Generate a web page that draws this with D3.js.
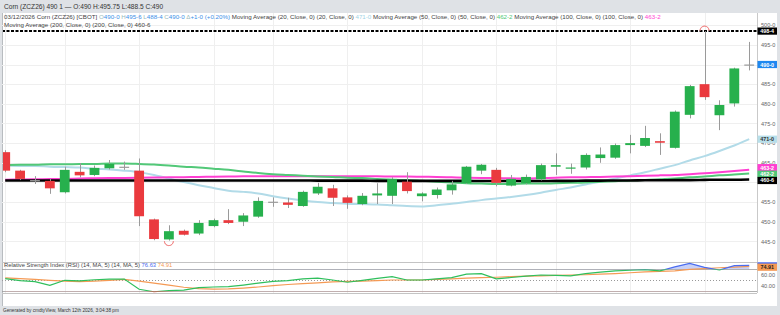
<!DOCTYPE html>
<html>
<head>
<meta charset="utf-8">
<script src="https://cdn.jsdelivr.net/npm/d3@7"></script>
<style>
body { margin: 0; background: #dfe2e6; font-family: "Liberation Sans", Arial, sans-serif; }
svg { display: block; }
</style>
</head>
<body>
<div id="chart"></div>
<script>
// trading days shown
let dates = ["2025-12-29","2025-12-30","2025-12-31","2026-01-02","2026-01-05","2026-01-06","2026-01-07","2026-01-08","2026-01-09",
  "2026-01-12","2026-01-13","2026-01-14","2026-01-15","2026-01-16","2026-01-20","2026-01-21","2026-01-22","2026-01-23",
  "2026-01-26","2026-01-27","2026-01-28","2026-01-29","2026-01-30","2026-02-02","2026-02-03","2026-02-04","2026-02-05","2026-02-06",
  "2026-02-09","2026-02-10","2026-02-11","2026-02-12","2026-02-13","2026-02-17","2026-02-18","2026-02-19","2026-02-20",
  "2026-02-23","2026-02-24","2026-02-25","2026-02-26","2026-02-27","2026-03-02","2026-03-03","2026-03-04","2026-03-05","2026-03-06",
  "2026-03-09","2026-03-10","2026-03-11","2026-03-12"]

let opens  = [467.7,463.0,460.6,460.4,457.5,462.7,461.9,463.6,464.0,463.0,450.6,445.5,447.7,447.0,448.9,450.4,450.0,451.3,455.1,454.9,
  454.0,457.2,458.5,456.2,454.5,456.7,456.6,460.2,456.5,456.8,458.0,459.8,463.0,463.2,459.2,459.8,460.8,464.0,463.5,463.8,
  466.2,466.3,469.5,469.3,470.5,468.8,477.2,485.0,477.1,480.1,490.0]
let highs  = [468.2,463.2,461.6,460.9,464.0,464.9,464.3,465.7,465.3,466.1,450.8,449.1,448.0,450.4,450.8,453.2,452.2,456.2,456.2,456.1,
  457.9,459.9,459.4,456.7,457.3,459.8,461.3,462.6,457.5,458.7,460.4,464.2,464.7,463.7,461.9,462.0,464.8,467.4,464.8,467.4,
  468.9,469.9,472.1,474.4,472.5,478.3,484.8,498.5,480.9,489.2,495.75]
let lows   = [462.6,460.6,459.6,457.1,457.2,461.3,461.6,463.3,463.2,448.9,445.3,445.2,446.5,446.6,448.6,449.4,448.9,451.0,453.8,453.5,
  453.8,456.8,454.0,453.3,454.2,454.5,454.5,457.2,455.2,455.9,456.9,459.6,462.1,459.0,459.0,459.5,460.5,461.9,462.2,463.3,
  465.0,466.0,467.4,469.0,467.0,468.6,476.3,481.0,473.3,479.3,488.5]
let closes = [463.0,460.9,460.6,458.5,463.2,461.8,463.7,464.7,464.0,451.4,445.6,447.6,446.7,449.7,450.4,449.7,451.6,455.3,455.1,454.3,
  457.6,458.9,456.1,454.8,456.6,457.2,460.9,457.8,457.2,458.2,459.5,464.0,464.5,459.9,460.9,461.4,464.4,464.4,463.8,467.0,
  467.1,469.5,470.0,471.3,470.1,478.0,484.5,481.7,479.7,489.0,490.0]

// moving averages (20, 50, 100, 200)
let ma20  = [464.3,464.2,464.2,464.0,463.9,463.8,463.5,463.3,463.0,462.6,461.9,461.0,460.1,459.3,458.6,457.9,457.6,457.2,456.5,455.9,
  455.4,455.0,454.8,454.6,454.5,454.4,454.2,454.0,453.9,454.2,454.6,455.0,455.5,455.9,456.3,456.8,457.4,458.1,458.7,459.5,
  460.2,461.0,461.8,462.6,463.5,464.4,465.6,466.7,468.0,469.4,471.0]
let ma50  = [464.4,464.5,464.5,464.6,464.6,464.7,464.7,464.8,464.8,464.7,464.55,464.3,464.0,463.8,463.5,463.2,462.8,462.4,462.1,461.9,
  461.7,461.5,461.4,461.2,461.1,460.9,460.7,460.6,460.4,460.2,460.0,459.8,459.7,459.6,459.6,459.7,459.7,459.8,459.9,460.0,
  460.2,460.3,460.5,460.6,460.8,461.0,461.3,461.5,461.8,462.0,462.25]
let ma100 = [460.7,460.75,460.8,460.85,460.9,461.0,461.05,461.1,461.15,461.2,461.25,461.3,461.35,461.4,461.45,461.5,461.55,461.6,461.6,461.6,
  461.6,461.6,461.6,461.6,461.55,461.55,461.5,461.5,461.45,461.4,461.3,461.2,461.15,461.1,461.05,461.0,461.1,461.2,461.3,461.35,
  461.4,461.5,461.6,461.7,461.8,461.9,462.1,462.35,462.6,462.9,463.25]
let ma200 = [460.5,460.5,460.5,460.5,460.5,460.5,460.5,460.5,460.5,460.5,460.5,460.5,460.5,460.5,460.5,460.5,460.5,460.5,460.5,460.5,
  460.5,460.45,460.45,460.45,460.45,460.4,460.4,460.4,460.4,460.4,460.4,460.4,460.35,460.35,460.35,460.35,460.35,460.4,460.4,460.45,
  460.45,460.5,460.5,460.55,460.55,460.6,460.6,460.65,460.7,460.7,460.75]

// RSI (14) and its 5-period MA
let rsi   = [53.0,49.5,47.5,41.0,50.0,49.0,51.0,52.0,52.3,34.0,29.5,31.5,32.5,37.0,38.0,38.5,41.5,45.0,48.0,49.5,
  52.5,53.8,50.5,46.5,50.0,53.5,56.5,50.5,50.5,52.5,54.7,61.0,61.8,52.5,55.0,57.5,59.5,59.0,57.8,62.0,
  64.5,67.0,68.0,69.0,66.8,74.0,80.5,73.3,68.5,76.2,76.63]
let rsiMa = [54.5,53.0,51.5,50.0,48.5,47.5,48.5,50.0,51.5,48.5,45.0,41.5,37.5,35.0,34.0,34.5,36.0,38.0,40.5,42.5,
  44.0,45.5,47.0,48.0,48.5,49.5,50.5,50.5,50.5,51.5,52.5,54.0,54.7,55.5,56.5,57.5,58.0,58.8,59.5,60.0,
  61.0,62.0,63.5,65.0,66.0,67.0,69.5,71.0,72.5,73.5,74.91]

let tickDates  = ["2025-12-29","2026-01-05","2026-01-12","2026-01-20","2026-01-26","2026-02-02","2026-02-09","2026-02-17","2026-02-23","2026-03-02","2026-03-09"]
let tickLabels = ["Dec 29","Jan 5","Jan 12","Jan 20","Jan 26","Feb 2","Feb 9","Feb 17","Feb 23","Mar 2","Mar 9"]
let priceTicks = [445,450,455,460,465,470,475,480,485,490,495,500]
let priceLabels = [445,450,455,465,470,475,480,485,490,495,500]   // 460 sits under the MA tags
let rsiTicks   = [60,40]

let width = 780
let height = 315
let plotL = 2, plotR = 757
let mainT = 13, mainB = 262
let rsiT = 262, rsiB = 293

let green = "#27b04d", red = "#ea3a3e", wick = "#9a9a9a"

let fmt = p => { let f = Math.floor(p); return f + "-" + Math.round((p - f) * 8) }

let svg = d3.select("#chart").append("svg")
  .attr("width", width)
  .attr("height", height)

// white panel
svg.append("rect")
  .attr("x", plotL).attr("y", mainT).attr("width", 775).attr("height", 293)
  .attr("fill", "#fff")
svg.append("line").attr("x1", plotL + 0.5).attr("x2", plotL + 0.5).attr("y1", mainT).attr("y2", 306)
  .attr("stroke", "#b8bcc0")

// scales
let x = d3.scaleBand()
  .domain(dates)
  .range([0.3, 754.1])
  .paddingInner(0.34)
let cx = d => x(d) + x.bandwidth() / 2

let y = d3.scaleLinear()
  .domain([445, 500])
  .range([241.4, 25.2])

let yR = d3.scaleLinear()
  .domain([30, 70])
  .range([291.45, 269.15])

let defs = svg.append("defs")
defs.append("clipPath").attr("id", "clipMain").append("rect")
  .attr("x", plotL + 1).attr("y", mainT).attr("width", plotR - plotL - 1).attr("height", mainB - mainT)
defs.append("clipPath").attr("id", "clipAxis").append("rect")
  .attr("x", plotL + 1).attr("y", rsiB).attr("width", plotR - plotL - 1).attr("height", 13)
defs.append("clipPath").attr("id", "clipHi").append("rect")
  .attr("x", plotL).attr("y", rsiT).attr("width", plotR - plotL).attr("height", yR(70) - rsiT)
defs.append("clipPath").attr("id", "clipMid").append("rect")
  .attr("x", plotL).attr("y", yR(70)).attr("width", plotR - plotL).attr("height", yR(30) - yR(70))
defs.append("clipPath").attr("id", "clipLo").append("rect")
  .attr("x", plotL).attr("y", yR(30)).attr("width", plotR - plotL).attr("height", rsiB - yR(30))

// grid
let grid = svg.append("g").attr("stroke", "#efefef").attr("stroke-width", 1)
grid.selectAll("line.h").data(priceTicks).enter().append("line")
  .attr("x1", plotL).attr("x2", plotR)
  .attr("y1", d => Math.round(y(d)) + 0.5).attr("y2", d => Math.round(y(d)) + 0.5)
grid.selectAll("line.v").data(tickDates).enter().append("line")
  .attr("x1", d => Math.round(cx(d)) + 0.5).attr("x2", d => Math.round(cx(d)) + 0.5)
  .attr("y1", mainT).attr("y2", rsiB)

let main = svg.append("g").attr("clip-path", "url(#clipMain)")

// moving averages
let maLine = arr => d3.line().x((d, i) => cx(dates[i])).y(d => y(d)).curve(d3.curveMonotoneX)(arr)
let maSeries = [
  { vals: ma20, color: "#b2dbe8", w: 2 },
  { vals: ma100, color: "#ff3fd2", w: 2 },
  { vals: ma50, color: "#52c878", w: 2 },
  { vals: ma200, color: "#000", w: 2.6 }
]
main.selectAll("path.ma").data(maSeries).enter().append("path")
  .attr("d", d => maLine(d.vals))
  .attr("fill", "none")
  .attr("stroke", d => d.color)
  .attr("stroke-width", d => d.w)

// high dashed line
main.append("line")
  .attr("x1", plotL).attr("x2", plotR)
  .attr("y1", y(d3.max(highs))).attr("y2", y(d3.max(highs)))
  .attr("stroke", "#000").attr("stroke-width", 2).attr("stroke-dasharray", "3,1.5")

// candles
let candles = main.selectAll("g.candle").data(dates).enter().append("g")
candles.append("line")
  .attr("x1", d => Math.round(cx(d)) + 0.5).attr("x2", d => Math.round(cx(d)) + 0.5)
  .attr("y1", (d, i) => y(highs[i])).attr("y2", (d, i) => y(lows[i]))
  .attr("stroke", wick).attr("stroke-width", 1)
candles.append("rect")
  .attr("x", d => x(d))
  .attr("width", x.bandwidth())
  .attr("y", (d, i) => y(Math.max(opens[i], closes[i])))
  .attr("height", (d, i) => Math.max(1.2, Math.abs(y(opens[i]) - y(closes[i]))))
  .attr("fill", (d, i) => closes[i] > opens[i] ? green : closes[i] < opens[i] ? red : wick)

// high / low markers
let iHi = highs.indexOf(d3.max(highs)), iLo = lows.indexOf(d3.min(lows))
let arc = d3.arc().innerRadius(4.5).outerRadius(4.5)
main.append("path")
  .attr("transform", `translate(${cx(dates[iHi])},${y(highs[iHi]) - 0.5})`)
  .attr("d", arc({ startAngle: -Math.PI / 2, endAngle: Math.PI / 2 }))
  .attr("fill", "none").attr("stroke", "#f08a8a").attr("stroke-width", 0.9)
main.append("path")
  .attr("transform", `translate(${cx(dates[iLo])},${y(lows[iLo]) + 0.5})`)
  .attr("d", arc({ startAngle: Math.PI / 2, endAngle: Math.PI * 1.5 }))
  .attr("fill", "none").attr("stroke", "#f08a8a").attr("stroke-width", 0.9)

// price axis
let yAxis = d3.axisRight(y).tickValues(priceLabels).tickFormat(fmt).tickSize(0).tickPadding(4)
let ya = svg.append("g").attr("transform", `translate(${plotR},0)`).call(yAxis)
ya.select(".domain").attr("stroke", "#c9c9c9").attr("d", `M0.5,${mainT}V${rsiB}`)
ya.selectAll("text").attr("font-size", 5.6).attr("fill", "#666").attr("font-family", "Liberation Sans, Arial")

// value labels on the axis
let tag = (yc, txt, bg, fg) => {
  let g = svg.append("g")
  g.append("rect").attr("x", plotR + 0.5).attr("y", yc - 3.6).attr("width", 19.5).attr("height", 7.2).attr("fill", bg)
  g.append("text").attr("x", plotR + 10.2).attr("y", yc + 2).attr("text-anchor", "middle")
    .attr("font-size", 5.4).attr("font-weight", "bold").attr("fill", fg).text(txt)
}
tag(y(d3.max(highs)), fmt(d3.max(highs)), "#000", "#fff")
tag(y(closes[closes.length - 1]), fmt(closes[closes.length - 1]), "#1e88f0", "#fff")
tag(y(ma20[50]), fmt(ma20[50]), "#b7dfea", "#333")
tag(y(ma100[50]) - 2, fmt(ma100[50]), "#ff3fd2", "#fff")
tag(y(ma50[50]) + 0.6, fmt(ma50[50]), "#52c878", "#fff")
tag(y(ma200[50]) + 1, fmt(ma200[50]), "#000", "#fff")

// panel separators
svg.append("line").attr("x1", plotL).attr("x2", plotR).attr("y1", mainB + 0.5).attr("y2", mainB + 0.5).attr("stroke", "#c4c4c4")
svg.append("line").attr("x1", plotL).attr("x2", plotR).attr("y1", rsiB + 0.5).attr("y2", rsiB + 0.5).attr("stroke", "#c4c4c4")

// RSI panel
let rsiG = svg.append("g")
rsiG.selectAll("line.lvl").data([70, 30]).enter().append("line")
  .attr("x1", plotL).attr("x2", plotR)
  .attr("y1", d => Math.round(yR(d)) + 0.5).attr("y2", d => Math.round(yR(d)) + 0.5)
  .attr("stroke", "#9a9a9a").attr("stroke-width", 0.8)
rsiG.append("line")
  .attr("x1", plotL).attr("x2", plotR)
  .attr("y1", Math.round(yR(50)) + 0.5).attr("y2", Math.round(yR(50)) + 0.5)
  .attr("stroke", "#999").attr("stroke-dasharray", "1,2")

let rsiLine = d3.line().x((d, i) => cx(dates[i])).y(d => yR(d))
rsiG.append("path").attr("clip-path", "url(#clipHi)")
  .attr("d", d3.area().x((d, i) => cx(dates[i])).y0(yR(70)).y1(d => yR(d))(rsi))
  .attr("fill", "#b9c4f5").attr("opacity", 0.8)
rsiG.append("path").attr("clip-path", "url(#clipLo)")
  .attr("d", d3.area().x((d, i) => cx(dates[i])).y0(yR(30)).y1(d => yR(d))(rsi))
  .attr("fill", "#f5b0b0")
rsiG.append("path").attr("d", rsiLine(rsiMa))
  .attr("fill", "none").attr("stroke", "#f59a55").attr("stroke-width", 1.2)
let rsiParts = [["clipMid", "#2fbf5c"], ["clipHi", "#4a6cf0"], ["clipLo", "#e53935"]]
rsiG.selectAll("path.rsi").data(rsiParts).enter().append("path")
  .attr("clip-path", d => `url(#${d[0]})`)
  .attr("d", rsiLine(rsi))
  .attr("fill", "none").attr("stroke", d => d[1]).attr("stroke-width", 1.2)

let rAxis = d3.axisRight(yR).tickValues(rsiTicks).tickFormat(d3.format(".2f")).tickSize(0).tickPadding(4)
let ra = svg.append("g").attr("transform", `translate(${plotR},0)`).call(rAxis)
ra.select(".domain").remove()
ra.selectAll("text").attr("font-size", 5.6).attr("fill", "#666").attr("font-family", "Liberation Sans, Arial")

svg.append("rect").attr("x", plotR + 0.5).attr("y", yR(rsi[50]) - 3.2).attr("width", 19.5).attr("height", 2).attr("fill", "#4a6cf0")
tag(yR(rsiMa[50]) + 0.8, rsiMa[50].toFixed(2), "#f59a55", "#222")

// date axis
let xAxis = d3.axisBottom(x).tickValues(tickDates)
  .tickFormat(d => tickLabels[tickDates.indexOf(d)]).tickSize(0).tickPadding(5)
let xa = svg.append("g").attr("transform", `translate(0,${rsiB})`).attr("clip-path", "url(#clipAxis)").call(xAxis)
xa.select(".domain").remove()
xa.selectAll("text").attr("font-size", 5.6).attr("fill", "#555").attr("font-family", "Liberation Sans, Arial")

// titles and legends
svg.append("text").attr("x", 4).attr("y", 8.5).attr("font-size", 6.6).attr("fill", "#333")
  .text("Corn (ZCZ26) 490 1 \u2014 O:490 H:495.75 L:488.5 C:490")

let blue = "#3d8fe8"
let leg = svg.append("text").attr("x", 4).attr("y", 19).attr("font-size", 6.2).attr("fill", "#444")
let parts = [
  ["03/12/2026 Corn (ZCZ26) [CBOT] ", "#444"], ["O", "#9bb"], ["490-0 ", blue], ["H", "#9bb"], ["495-6 ", blue],
  ["L", "#9bb"], ["488-4 ", blue], ["C", "#9bb"], ["490-0 ", blue], ["\u0394", "#9bb"], ["+1-0 (+0.20%) ", blue],
  ["Moving Average (20, Close, 0)  (20, Close, 0) ", "#444"], ["471-0", "#9fd3e6"],
  [" Moving Average (50, Close, 0)  (50, Close, 0) ", "#444"], ["462-2", "#52c878"],
  [" Moving Average (100, Close, 0)  (100, Close, 0) ", "#444"], ["463-2", "#ff3fd2"]
]
leg.selectAll("tspan").data(parts).enter().append("tspan").attr("fill", d => d[1]).text(d => d[0])
svg.append("text").attr("x", 4).attr("y", 26.5).attr("font-size", 6.2).attr("fill", "#444")
  .text("Moving Average (200, Close, 0)  (200, Close, 0)  460-6")

let rl = svg.append("text").attr("x", 4).attr("y", 267.3).attr("font-size", 5.8).attr("fill", "#444")
rl.selectAll("tspan").data([
  ["Relative Strength Index (RSI) (14, MA, 5)  (14, MA, 5) ", "#444"], ["76.63", "#4a6cf0"], [" ", "#444"], ["74.91", "#f59a55"]
]).enter().append("tspan").attr("fill", d => d[1]).text(d => d[0])

svg.append("text").attr("x", 3).attr("y", 312).attr("font-size", 4.7).attr("fill", "#333")
  .text("Generated by cmdtyView, March 12th 2026, 3:04:38 pm")
</script>
</body>
</html>
